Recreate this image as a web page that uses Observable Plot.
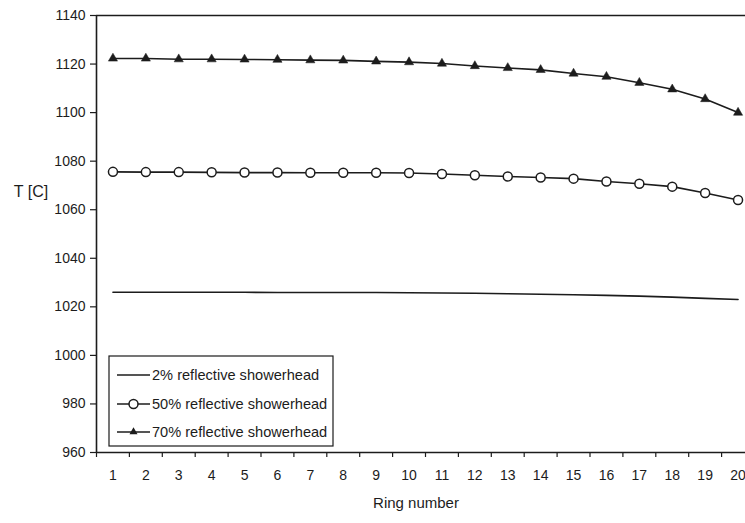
<!DOCTYPE html>
<html>
<head>
<meta charset="utf-8">
<script src="https://cdn.jsdelivr.net/npm/d3@7"></script>
<script src="https://cdn.jsdelivr.net/npm/@observablehq/plot@0.6"></script>
<style>
  html, body { margin: 0; padding: 0; background: #fff; }
  #chart { width: 745px; height: 523px; overflow: hidden; }
</style>
</head>
<body>
<div id="chart"></div>
<script>
// ---- data ----
const rings = [1, 2, 3, 4, 5, 6, 7, 8, 9, 10, 11, 12, 13, 14, 15, 16, 17, 18, 19, 20];
const t2 = [1026.0, 1026.0, 1026.0, 1026.0, 1026.0, 1025.9, 1025.9, 1025.9, 1025.9, 1025.8,
            1025.7, 1025.6, 1025.4, 1025.2, 1025.0, 1024.7, 1024.4, 1024.0, 1023.5, 1023.0];
const t50 = [1075.6, 1075.5, 1075.5, 1075.4, 1075.3, 1075.3, 1075.2, 1075.2, 1075.2, 1075.1,
             1074.7, 1074.2, 1073.7, 1073.3, 1072.8, 1071.6, 1070.7, 1069.5, 1066.9, 1064.0];
const t70 = [1122.3, 1122.3, 1122.0, 1122.0, 1121.9, 1121.8, 1121.6, 1121.5, 1121.1, 1120.8,
             1120.2, 1119.2, 1118.4, 1117.6, 1116.1, 1114.8, 1112.3, 1109.6, 1105.6, 1100.0];
const yTicks = [960, 980, 1000, 1020, 1040, 1060, 1080, 1100, 1120, 1140];
const seriesNames = ["2% reflective showerhead", "50% reflective showerhead", "70% reflective showerhead"];
const xLabel = "Ring number";
const yLabel = "T [C]";

const rows = (vals) => rings.map((r, i) => ({ring: r, T: vals[i]}));
const d2 = rows(t2), d50 = rows(t50), d70 = rows(t70);
const betweenTicks = rings.map(r => r - 0.5).concat([rings[rings.length - 1] + 0.5]);

const ink = "#1c1c1c";
const font = "'Liberation Sans', Arial, Helvetica, sans-serif";

const chart = Plot.plot({
  width: 745,
  height: 523,
  marginTop: 15,
  marginBottom: 71,
  marginLeft: 96,
  marginRight: 0,
  style: {fontFamily: font, fontSize: "14px", color: ink, background: "#fff"},
  x: {domain: [0.5, 20.5], range: [96, 754]},
  y: {domain: [960, 1140]},
  marks: [
    Plot.axisY({ticks: yTicks, tickSize: 6, tickPadding: 5, fontSize: 14, label: null,
                tickFormat: d => String(d), stroke: ink, strokeWidth: 1.2}),
    Plot.axisX({ticks: betweenTicks, tickSize: 5, tickFormat: () => "", label: null, stroke: ink, strokeWidth: 1.2}),
    Plot.axisX({ticks: rings, tickSize: 0, tickPadding: 18, fontSize: 14, label: null, tickFormat: d => String(d)}),
    Plot.ruleY([1140], {stroke: ink, strokeWidth: 1.5}),
    Plot.ruleY([960], {stroke: ink, strokeWidth: 1.6}),
    Plot.ruleX([0.5], {stroke: ink, strokeWidth: 1.6}),
    Plot.line(d2, {x: "ring", y: "T", stroke: ink, strokeWidth: 1.6}),
    Plot.line(d50, {x: "ring", y: "T", stroke: ink, strokeWidth: 1.6}),
    Plot.dot(d50, {x: "ring", y: "T", r: 4.5, fill: "white", stroke: ink, strokeWidth: 1.5}),
    Plot.line(d70, {x: "ring", y: "T", stroke: ink, strokeWidth: 1.6}),
    Plot.dot(d70, {x: "ring", y: "T", symbol: "triangle", r: 3.4, fill: ink, stroke: ink, strokeWidth: 0.5})
  ]
});

document.getElementById("chart").appendChild(chart);

// ---- axis titles & legend (annotation layer) ----
const svg = d3.select(chart);
svg.append("text")
  .attr("x", 31).attr("y", 197)
  .attr("text-anchor", "middle")
  .attr("font-family", font).attr("font-size", 16).attr("fill", ink)
  .text(yLabel);
svg.append("text")
  .attr("x", 416).attr("y", 508)
  .attr("text-anchor", "middle")
  .attr("font-family", font).attr("font-size", 15).attr("fill", ink)
  .text(xLabel);

const lg = svg.append("g").attr("transform", "translate(109,356)");
lg.append("rect").attr("width", 224).attr("height", 90)
  .attr("fill", "white").attr("stroke", ink).attr("stroke-width", 1.2);
const rowY = [19, 48, 76];
seriesNames.forEach((name, i) => {
  const g = lg.append("g").attr("transform", `translate(0,${rowY[i]})`);
  g.append("line").attr("x1", 8).attr("x2", 41).attr("y1", 0).attr("y2", 0)
    .attr("stroke", ink).attr("stroke-width", 1.6);
  if (i === 1) {
    g.append("circle").attr("cx", 24.5).attr("cy", 0).attr("r", 4.5)
      .attr("fill", "white").attr("stroke", ink).attr("stroke-width", 1.5);
  } else if (i === 2) {
    g.append("path").attr("transform", "translate(24.5,0)")
      .attr("d", d3.symbol(d3.symbolTriangle, 28)())
      .attr("fill", ink);
  }
  g.append("text").attr("x", 43).attr("y", 0).attr("dy", "0.36em")
    .attr("text-anchor", "start")
    .attr("font-family", font).attr("font-size", 14.6).attr("fill", ink)
    .text(name);
});
</script>
</body>
</html>
